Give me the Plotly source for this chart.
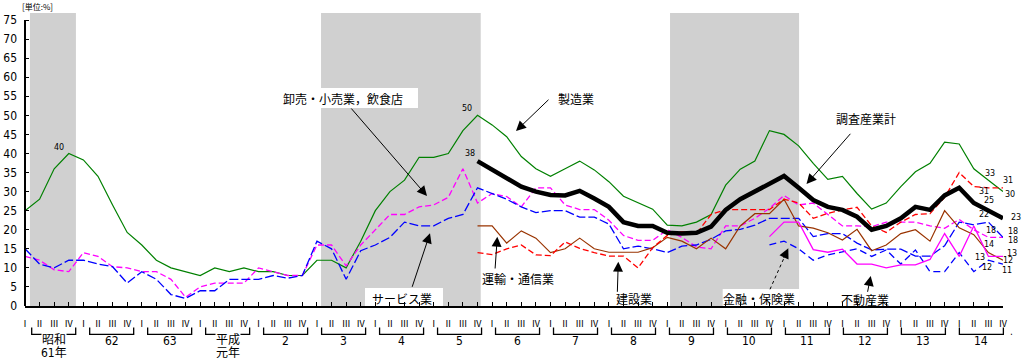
import plotly.graph_objects as go

# ---------------- data ----------------
years = ["昭和<br>61年", "62", "63", "平成<br>元年", "2", "3", "4", "5", "6",
         "7", "8", "9", "10", "11", "12", "13", "14"]
quarters = ["Ⅰ", "Ⅱ", "Ⅲ", "Ⅳ"]

# 製造業 (S61 Q1 - H14 Q4)
manufacturing = [25, 28, 36, 40, 38.3, 34, 26.5, 19.3, 16, 12,
                 10, 9, 8, 10, 9, 10, 9, 9, 8, 8,
                 12, 12, 10, 17, 25, 30, 33, 39, 39, 40,
                 46, 50, 47.5, 44.4, 39.2, 36, 34, 36, 38, 35.7,
                 32.6, 28.8, 27.1, 25.4, 21.2, 21, 22, 24, 31.7, 35.9,
                 38, 46, 45, 42, 37.4, 33.2, 34, 29.5, 25.4, 27,
                 31.3, 35.2, 37.4, 43, 42.5, 36, 33, 30]
# 卸売・小売業，飲食店
wholesale = [13, 12, 9.5, 9, 14, 13, 10.3, 10, 9, 9,
             7, 2.3, 5, 6, 6, 6, 10, 9, 8, 8,
             16, 16, 10.5, 16, 20, 24, 24, 26, 26.5, 28.5,
             36, 27, 29.5, 28.7, 26, 31, 31, 26.5, 25.3, 25.3,
             22.5, 18.5, 17.2, 17.2, 20, 18, 15.5, 15, 21, 21,
             23, 25.6, 29, 26.5, 27, 24, 21, 21, 20.8, 22,
             22, 22, 21, 20.4, 22.7, 20, 18, 18]
# サービス業
services = [15, 11, 10, 12, 12, 11, 10.3, 6, 9, 7,
            3, 2, 4, 4, 7, 7, 7, 8, 7.3, 8,
            17, 15, 7, 14.5, 16, 18, 22, 21, 21, 23,
            24, 31, 29.5, 28, 26, 24.5, 25, 25, 23.3, 23.3,
            21.5, 15, 15.7, 15, 14, 15.7, 16, 17.5, 19.7, 20.1,
            21.2, 23, 23, 23, 18.2, 19, 19, 16.5, 14.7, 14.9,
            14.9, 13.1, 13.1, 15.8, 22, 21.3, 22, 18]
# 調査産業計 (H5 Q4 -)
total = [38, 35.7, 33.5, 31.3, 30, 29.1, 29, 30.2, 28.2, 26,
         22, 21, 21, 19.2, 19, 19.2, 20.8, 25.2, 28, 30,
         32.2, 34.1, 31, 27.8, 26, 25.2, 23.4, 20, 21, 23,
         26, 25.2, 29, 31, 27, 25, 23]
# 運輸・通信業 (H5 Q4 -)
transport = [21, 21, 16.5, 19.7, 17.8, 14, 15, 17.8, 15, 14.1,
             14.1, 14.1, 15.3, 18, 17, 15, 17.8, 15, 21, 24.2,
             24.2, 28, 21, 20.4, 19.2, 17.3, 20.1, 14.5, 16, 19,
             20, 17, 25, 20.5, 18.7, 14, 12]
# 建設業 (H5 Q4 -)
construction = [14, 13.5, 15, 16, 13.4, 13.2, 16.8, 15.1, 14, 13.1,
                13.1, 10, 15.3, 18.5, 19.5, 19, 24, 25.3, 25.3, 25.3,
                25.3, 28, 27, 23, 24.3, 25.2, 25.9, 21, 19.3, 22,
                24, 24.2, 28.5, 35, 31.3, 31, 31]
# 金融・保険業 (H10 Q4 -)
finance = [16, 17, 15, 12, 13.4, 14.2, 15, 13, 14.7, 11,
           14.7, 9, 9, 14, 9, 12, 11]
# 不動産業 (H10 Q4 -)
realestate = [18.2, 22, 22, 14.8, 14.1, 14.9, 11, 11, 10, 10.8,
              10.8, 12.2, 19, 13, 21, 13, 13]

# recession periods (quarter-index units)
recessions = [(0.34, 3.49), (20.28, 31.22), (44.19, 53.03)]

# ---------------- geometry helpers ----------------
W, H = 1022, 361
ML, MR, MT, MB = 25, 19, 13, 55
N = len(years) * 4
XMAX = N - 1
YMAX = 76.84
PW, PH = W - ML - MR, H - MT - MB


def dx(px):
    return (px - ML) / PW * XMAX


def dy(py):
    return (H - MB - py) / PH * YMAX


def ppx(px):
    return (px - ML) / PW


def ppy(py):
    return (H - MB - py) / PH


xs = list(range(N))


def xr(series):
    return xs[N - len(series):]


CJK = "Noto Sans CJK JP"
NUM = "Liberation Sans Narrow, DejaVu Sans Condensed, Noto Sans CJK JP"

fig = go.Figure()

series = [
    ("製造業", manufacturing, "#008000", 1.2, "solid"),
    ("卸売・小売業，飲食店", wholesale, "#FF00FF", 1.3, "6px,3px"),
    ("サービス業", services, "#0000FF", 1.3, "9px,3px"),
    ("運輸・通信業", transport, "#993300", 1.2, "solid"),
    ("建設業", construction, "#FF0000", 1.3, "6px,3px"),
    ("金融・保険業", finance, "#0000FF", 1.3, "7px,4px"),
    ("不動産業", realestate, "#FF00FF", 1.3, "solid"),
    ("調査産業計", total, "#000000", 4.5, "solid"),
]
for name, ys, col, w, dash in series:
    fig.add_trace(go.Scatter(x=xr(ys), y=ys, mode="lines", name=name,
                             line=dict(color=col, width=w, dash=dash),
                             hoverinfo="skip", showlegend=False))

shapes = []
for a, b in recessions:
    shapes.append(dict(type="rect", xref="x", yref="paper", x0=a, x1=b, y0=0, y1=1,
                       fillcolor="#d0d0d0", line=dict(width=0), layer="below"))
# white label boxes over shading
for x0, x1, y0, y1 in [(283, 418, 88, 108), (365, 443, 288, 306), (722.7, 799.3, 289, 306)]:
    shapes.append(dict(type="rect", xref="x", yref="y", x0=dx(x0), x1=dx(x1),
                       y0=dy(y1), y1=dy(y0), fillcolor="white",
                       line=dict(width=0), layer="below"))
# y axis line (0..75)
shapes.append(dict(type="line", xref="paper", yref="y", x0=0, x1=0, y0=0, y1=75,
                   line=dict(color="black", width=2)))
# year brackets
for k in range(len(years)):
    lpx = 31.7 + 57.98 * k
    rpx = lpx + 44
    shapes.append(dict(type="path", xref="paper", yref="paper",
                       path=f"M {ppx(lpx)} {ppy(327.5)} L {ppx(lpx)} {ppy(334.3)} "
                            f"L {ppx(rpx)} {ppy(334.3)} L {ppx(rpx)} {ppy(327.5)}",
                       line=dict(color="black", width=1.3)))
# dotted arrow shaft for 金融・保険業
shapes.append(dict(type="line", xref="x", yref="y", x0=dx(770), y0=dy(289.3),
                   x1=dx(784), y1=dy(258), line=dict(color="black", width=1, dash="dot")))

ann = []
# year labels
for k, yl in enumerate(years):
    cpx = 31.7 + 57.98 * k + 22
    parts = yl.split("<br>")
    if len(parts) == 2:
        ann.append(dict(xref="paper", yref="paper", x=ppx(cpx), y=ppy(340),
                        xanchor="center", yanchor="middle", text=parts[0], showarrow=False,
                        font=dict(family=NUM, size=12, color="black"),
                        bgcolor="white", borderpad=0))
        ann.append(dict(xref="paper", yref="paper", x=ppx(cpx), y=ppy(353),
                        xanchor="center", yanchor="middle", text=parts[1], showarrow=False,
                        font=dict(family=NUM, size=12, color="black")))
    else:
        ann.append(dict(xref="paper", yref="paper", x=ppx(cpx), y=ppy(340.5),
                        xanchor="center", yanchor="middle", text=yl, showarrow=False,
                        font=dict(family=NUM, size=12, color="black")))

# unit label
ann.append(dict(xref="paper", yref="paper", x=ppx(37), y=ppy(6), text="[単位:%]",
                showarrow=False, xanchor="center", yanchor="middle",
                font=dict(family=CJK, size=8, color="black")))
ann.append(dict(xref="paper", yref="paper", x=ppx(1011), y=ppy(331), text=".",
                showarrow=False, xanchor="center", yanchor="middle",
                font=dict(family=NUM, size=10, color="black")))

# series name labels
labels = [("卸売・小売業，飲食店", 343, 98), ("製造業", 576, 98.7), ("調査産業計", 865.5, 118.7),
          ("サービス業", 401.7, 298.3), ("運輸・通信業", 517.5, 278.7), ("建設業", 634, 298.3),
          ("金融・保険業", 759, 298), ("不動産業", 865, 299)]
for t, px, py in labels:
    ann.append(dict(xref="x", yref="y", x=dx(px), y=dy(py), text=t, showarrow=False,
                    xanchor="center", yanchor="middle",
                    font=dict(family=CJK, size=12, color="black")))

arrows = [((350, 107), (427, 196)), ((550, 98.3), (516, 131)), ((851.7, 132.3), (806.5, 184)),
          ((411.7, 288.3), (430, 233.3)), ((495, 270), (497.3, 236.7)),
          ((617.3, 293.3), (618.3, 261.7)), ((867.3, 293.3), (870.7, 276)),
          ((783, 259.5), (788.3, 248.3))]
for (tx, ty), (hx, hy) in arrows:
    ann.append(dict(xref="x", yref="y", axref="x", ayref="y", x=dx(hx), y=dy(hy),
                    ax=dx(tx), ay=dy(ty), text="", showarrow=True, arrowhead=2,
                    arrowsize=2, arrowwidth=1, arrowcolor="black", standoff=0))

# value labels
VF = dict(family="DejaVu Sans", size=8, color="black")


def vlabel(ys, i, xs_, ys_):
    idx = i - (N - len(ys))
    ann.append(dict(xref="x", yref="y", x=i, y=ys[idx], text=str(int(round(ys[idx]))),
                    showarrow=False, xshift=xs_, yshift=ys_, font=VF))


vlabel(manufacturing, 3, -9.5, 6)
vlabel(manufacturing, 31, -10.6, 7)
vlabel(total, 31, -7.6, 8)
for ys, s66, s67 in [
    (manufacturing, (1.4, 7), (6.8, -2.4)),
    (construction, (-4.5, -4), (5.1, 6.8)),
    (total, (0.2, 10), (12.5, 0.6)),
    (services, (-4, 7.5), (9.5, 5.7)),
    (wholesale, (3, 7), (9.5, -3.3)),
    (transport, (1, 8.3), (5, 0)),
    (realestate, (-8.5, -0.6), (8.5, 3)),
    (finance, (-1.5, -7), (3.5, -6)),
]:
    vlabel(ys, N - 2, *s66)
    vlabel(ys, N - 1, *s67)

fig.update_layout(
    width=W, height=H, autosize=False,
    margin=dict(l=ML, r=MR, t=MT, b=MB, pad=0),
    paper_bgcolor="white", plot_bgcolor="white",
    shapes=shapes, annotations=ann,
    xaxis=dict(range=[0, XMAX], showline=True, linecolor="black", linewidth=2,
               ticks="inside", ticklen=4, tickwidth=1, tickcolor="black",
               tickvals=xs, ticktext=quarters * len(years), showgrid=False,
               zeroline=False, automargin=False, ticklabelstandoff=8,
               tickfont=dict(family=CJK, size=9, color="black")),
    yaxis=dict(range=[0, YMAX], showline=False, ticks="inside", ticklen=4,
               tickwidth=1, tickcolor="black", tickvals=list(range(0, 80, 5)),
               showgrid=False, zeroline=False, automargin=False,
               ticklabelstandoff=7,
               tickfont=dict(family=NUM, size=12, color="black")),
)

fig.write_html("out.html", config={"displayModeBar": False},
               post_script="document.body.style.margin='0';"
                           "document.body.style.overflow='hidden';")
